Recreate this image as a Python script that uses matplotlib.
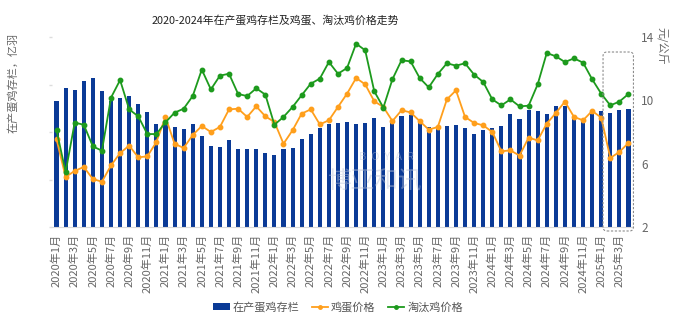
import matplotlib
matplotlib.use('Agg')
import matplotlib.pyplot as plt
from matplotlib.patches import FancyBboxPatch, Patch
from matplotlib.lines import Line2D
from matplotlib.transforms import IdentityTransform
import numpy as np

plt.rcParams['font.family'] = ['Noto Sans CJK SC', 'DejaVu Sans']

# ---------------- data ----------------
months = [f"{y}年{m}月" for y in range(2020, 2026) for m in range(1, 13)][:64]

layer_stock = [10.58, 11.71, 11.57, 12.27, 12.55, 11.42, 10.61, 10.86, 11.00, 10.33,
               9.66, 8.65, 8.90, 8.42, 8.22, 8.70, 7.64, 6.79, 6.71, 7.30,
               6.60, 6.54, 6.54, 6.23, 6.04, 6.60, 6.68, 7.38, 7.86, 8.36,
               8.70, 8.79, 8.87, 8.65, 8.79, 9.15, 8.42, 8.98, 9.35, 9.46,
               8.76, 8.42, 8.28, 8.51, 8.56, 8.36, 7.80, 8.14, 8.36, 8.48,
               9.49, 9.12, 9.82, 9.77, 9.49, 10.19, 10.16, 9.21, 8.98, 9.49,
               9.77, 9.63, 9.82, 9.96]

egg_price = [7.54, 5.16, 5.54, 5.79, 5.03, 4.86, 5.89, 6.67, 7.14, 6.40,
             6.46, 7.37, 8.95, 7.26, 6.99, 7.81, 8.38, 8.00, 8.32, 9.43,
             9.47, 8.95, 9.62, 8.99, 8.63, 7.26, 8.11, 9.16, 9.43, 8.48,
             8.74, 9.58, 10.42, 11.41, 11.01, 9.94, 9.58, 8.69, 9.37, 9.24,
             8.69, 8.15, 8.32, 10.06, 10.63, 8.95, 8.57, 8.42, 8.00, 6.78,
             6.84, 6.51, 7.64, 7.47, 8.53, 9.20, 9.92, 8.95, 8.74, 9.33,
             8.91, 6.36, 6.74, 7.31]

cull_price = [8.11, 5.47, 8.59, 8.46, 7.09, 6.82, 10.17, 11.28, 9.43, 8.99,
              7.87, 7.87, 8.61, 9.22, 9.47, 10.27, 11.94, 10.69, 11.56, 11.68,
              10.40, 10.27, 10.76, 10.36, 8.46, 8.95, 9.58, 10.32, 11.05, 11.37,
              12.42, 11.68, 12.04, 13.58, 13.16, 10.57, 9.54, 11.33, 12.53, 12.46,
              11.41, 10.82, 11.66, 12.34, 12.19, 12.34, 11.62, 11.16, 10.06, 9.68,
              10.06, 9.62, 9.66, 11.01, 12.99, 12.78, 12.42, 12.65, 12.38, 11.33,
              10.42, 9.68, 9.92, 10.40]

left_ticks = [0, 4, 8, 12, 16]
right_ticks = [2, 6, 10, 14]

title = "2020-2024年在产蛋鸡存栏及鸡蛋、淘汰鸡价格走势"
bar_label = "在产蛋鸡存栏"
egg_label = "鸡蛋价格"
cull_label = "淘汰鸡价格"

BLUE = '#0a3a96'
ORANGE = '#ff9f1c'
GREEN = '#1d9a1d'
GRAY = '#666666'

# ---------------- figure ----------------
W, H = 681, 327
fig = plt.figure(figsize=(W / 100, H / 100), dpi=100)
L, R, T, B = 52, 633, 37, 227
ax = fig.add_axes([L / W, 1 - B / H, (R - L) / W, (B - T) / H])

x = np.arange(len(months))
ax.bar(x, layer_stock, width=0.45, color=BLUE, zorder=2)
ax.set_xlim(-0.5, len(months) - 0.5)
ax.set_ylim(left_ticks[0], left_ticks[-1])
ax.set_yticks(left_ticks)
ax.set_yticklabels([''] * len(left_ticks))
ax.tick_params(axis='y', length=2, color='#dddddd', width=1)
ax.set_xticks(x[::2])
ax.set_xticklabels(months[::2], rotation=90, fontsize=8, color=GRAY)
ax.tick_params(axis='x', length=0, pad=5)
for s in ['top', 'right', 'left']:
    ax.spines[s].set_visible(False)
ax.spines['bottom'].set_color('#d9d9d9')

ax2 = ax.twinx()
ax2.plot(x, egg_price, color=ORANGE, lw=1.3, marker='o', ms=3.2, zorder=3)
ax2.plot(x, cull_price, color=GREEN, lw=1.3, marker='o', ms=3.2, zorder=3)
ax2.set_ylim(right_ticks[0], right_ticks[-1])
ax2.set_yticks(right_ticks)
ax2.tick_params(axis='y', length=0, pad=6, labelsize=8.5, labelcolor=GRAY)
for s in ['top', 'right', 'left', 'bottom']:
    ax2.spines[s].set_visible(False)

# axis names
fig.text(13 / W, 1 - 33 / H, "在产蛋鸡存栏，亿羽", rotation=90, ha='center', va='top',
         fontsize=8, color=GRAY)
fig.text(662 / W, 1 - 27 / H, "元/公斤", rotation=-90, ha='center', va='top',
         fontsize=8, color=GRAY)

# title
fig.text(275 / W, 1 - 20 / H, title, ha='center', va='center', fontsize=7.8, color='#222222')

# watermark
ax.text(0.575, 0.37, "B  O  Y  A  R", transform=ax.transAxes, ha='center', va='center',
        fontsize=8, color='#b8c2d8', alpha=0.45, zorder=4)
ax.text(0.555, 0.24, "博亚和讯", transform=ax.transAxes, ha='center', va='center',
        fontsize=17, color='#b8c2d8', alpha=0.45, zorder=4)

# dashed highlight box around last three months
fig.canvas.draw()
x0d = ax.transData.transform((60.2, 0))[0]
x1d = ax.transData.transform((63.55, 0))[0]
y0d = ax.transAxes.transform((0, -0.021))[1]
y1d = ax.transAxes.transform((0, 0.921))[1]
box = FancyBboxPatch((x0d, y0d), x1d - x0d, y1d - y0d,
                     boxstyle='round,pad=0,rounding_size=4',
                     transform=IdentityTransform(), fill=False,
                     ec='#8c8c8c', lw=0.8, ls=(0, (2, 1.5)), zorder=5)
fig.add_artist(box)

# legend
handles = [Patch(facecolor=BLUE, edgecolor='none'),
           Line2D([0], [0], color=ORANGE, lw=1.3, marker='o', ms=2.5),
           Line2D([0], [0], color=GREEN, lw=1.3, marker='o', ms=2.5)]
fig.legend(handles, [bar_label, egg_label, cull_label], loc='center',
           bbox_to_anchor=(338 / W, 1 - 307 / H), bbox_transform=fig.transFigure,
           ncol=3, frameon=False, fontsize=8, handlelength=1.5, handleheight=0.6,
           handletextpad=0.25, columnspacing=1.1, labelcolor='#555555')

fig.savefig('out.png', dpi=100)
